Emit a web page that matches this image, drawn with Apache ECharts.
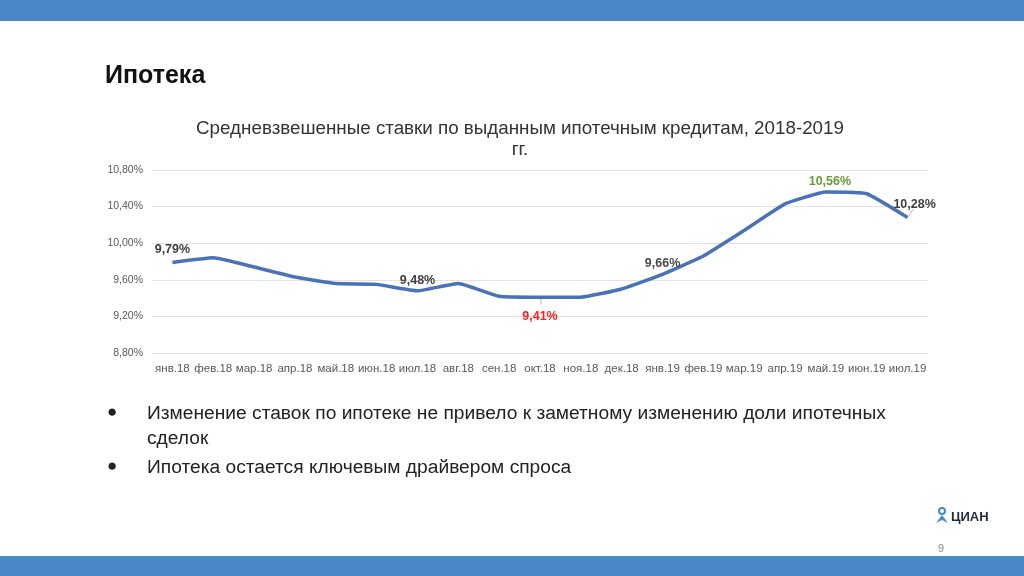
<!DOCTYPE html>
<html><head><meta charset="utf-8">
<script src="https://cdn.jsdelivr.net/npm/echarts@6/dist/echarts.min.js"></script>
<style>html,body{margin:0;padding:0;background:#fff;}#c{width:1024px;height:576px;}</style>
</head><body><div id="c"></div>
<script>
const categories = ['янв.18','фев.18','мар.18','апр.18','май.18','июн.18','июл.18','авг.18','сен.18','окт.18','ноя.18','дек.18','янв.19','фев.19','мар.19','апр.19','май.19','июн.19','июл.19'];
const rates = [9.79,9.84,9.74,9.63,9.56,9.55,9.48,9.56,9.42,9.41,9.41,9.50,9.66,9.86,10.14,10.43,10.56,10.54,10.28];
const yTicks = {min: 8.8, max: 10.8, step: 0.4};
const labelled = {0:'#404040', 6:'#404040', 9:'#ff2020', 12:'#4a4a4a', 16:'#6a9a3c', 18:'#404040'};
const bullets = ['Изменение ставок по ипотеке не привело к заметному изменению доли ипотечных', 'сделок', 'Ипотека остается ключевым драйвером спроса'];

const fmt = v => v.toFixed(2).replace('.', ',') + '%';
const offsets = {0: [0, 0], 6: [0, 2], 9: [0, 7], 12: [0, 2], 16: [4, 2], 18: [7, -1]};
const seriesData = rates.map((v, i) => {
  if (!(i in labelled)) return v;
  return {value: v, label: {show: true, position: i === 9 ? 'bottom' : 'top', offset: offsets[i], color: labelled[i]}};
});

const chart = echarts.init(document.getElementById('c'));
chart.setOption({
  animation: false,
  backgroundColor: '#fff',
  grid: {left: 152, right: 96, top: 170, bottom: 223},
  xAxis: {
    type: 'category', data: categories, boundaryGap: true,
    axisLine: {show: false}, axisTick: {show: false},
    axisLabel: {color: '#595959', fontSize: 11.5, fontFamily: 'Arial, Liberation Sans', margin: 10, interval: 0}
  },
  yAxis: {
    type: 'value', min: yTicks.min, max: yTicks.max, interval: yTicks.step,
    axisLine: {show: false}, axisTick: {show: false},
    axisLabel: {color: '#595959', fontSize: 10.5, fontFamily: 'Arial, Liberation Sans', margin: 9, formatter: v => fmt(v)},
    splitLine: {lineStyle: {color: '#e3e3e3', width: 1}}
  },
  series: [{
    type: 'line', data: seriesData, smooth: 0.12, symbol: 'circle', symbolSize: 2, showSymbol: true,
    itemStyle: {color: 'rgba(0,0,0,0)', borderWidth: 0},
    lineStyle: {color: '#4a72b8', width: 3.5},
    label: {show: false, fontSize: 12.5, fontWeight: 'bold', fontFamily: 'Arial, Liberation Sans', formatter: p => fmt(p.value)},
    emphasis: {disabled: true}
  }],
  graphic: [
    {type: 'rect', left: 0, top: 0, shape: {width: 1024, height: 21}, style: {fill: '#4a89c8'}},
    {type: 'rect', left: 0, top: 556, shape: {width: 1024, height: 20}, style: {fill: '#4a89c8'}},
    {type: 'text', left: 105, top: 64, style: {text: 'Ипотека', font: 'bold 25px Arial, Liberation Sans', fill: '#111'}},
    {type: 'text', x: 520, y: 118, style: {text: 'Средневзвешенные ставки по выданным ипотечным кредитам, 2018-2019\nгг.', font: '18.8px Arial, Liberation Sans', fill: '#333', align: 'center', lineHeight: 21}},
    {type: 'text', left: 107, top: 404, style: {text: '●', font: '17px Arial, Liberation Sans', fill: '#222'}},
    {type: 'text', left: 147, top: 404, style: {text: bullets[0], font: '19.2px Arial, Liberation Sans', fill: '#222'}},
    {type: 'text', left: 147, top: 429, style: {text: bullets[1], font: '19.2px Arial, Liberation Sans', fill: '#222'}},
    {type: 'text', left: 107, top: 458, style: {text: '●', font: '17px Arial, Liberation Sans', fill: '#222'}},
    {type: 'text', left: 147, top: 458, style: {text: bullets[2], font: '19.2px Arial, Liberation Sans', fill: '#222'}},
    {type: 'line', shape: {x1: 541, y1: 296, x2: 541, y2: 304}, style: {stroke: '#bbb', lineWidth: 1}},
    {type: 'line', shape: {x1: 909, y1: 216, x2: 913, y2: 209}, style: {stroke: '#bbb', lineWidth: 1}},
    {type: 'circle', shape: {cx: 942, cy: 511, r: 3}, style: {fill: 'none', stroke: '#4a89c8', lineWidth: 2}},
    {type: 'polygon', shape: {points: [[942, 515], [936, 523], [942, 520], [948, 523]]}, style: {fill: '#4a89c8'}},
    {type: 'text', left: 951, top: 511, style: {text: 'ЦИАН', font: 'bold 13px Arial, Liberation Sans', fill: '#1e2a3a'}},
    {type: 'text', left: 938, top: 543, style: {text: '9', font: '11px Arial, Liberation Sans', fill: '#888'}}
  ]
});
</script></body></html>
